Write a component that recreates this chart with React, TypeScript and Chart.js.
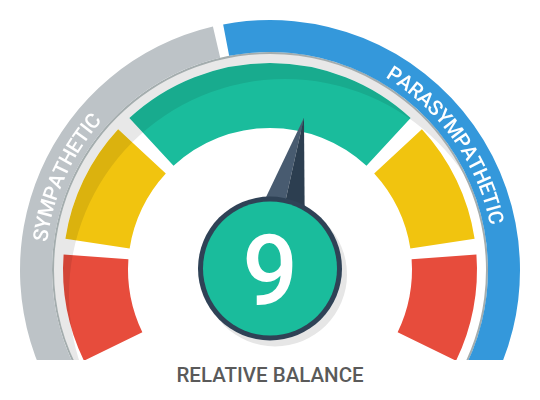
import { useEffect, useRef } from 'react';
import { Chart, registerables } from 'chart.js';

Chart.register(...registerables);

// ---- data ----
const sideLabels = ['SYMPATHETIC', 'PARASYMPATHETIC'];
const sideShares = [45, 55]; // % of the outer ring sweep
const sideColors = ['#bdc3c7', '#3498db'];
const sideLabelAngles = [-65.6, 54.7]; // label centre, degrees from top

const zoneLabels = ['Low', 'Fair', 'Balanced', 'Fair', 'Low'];
const zoneSweeps = [32.5, 38.5, 90, 38.5, 32.5]; // degrees (gaps included)
const zoneColors = ['#e74c3c', '#f1c40f', '#1abc9c', '#f1c40f', '#e74c3c'];

const balanceValue = 9;
const scaleMin = -83;
const scaleMax = 83;
const titleText = 'RELATIVE BALANCE';

// ---- geometry / style ----
const OUTER_SWEEP = 240;
const RING_GAP = 2.4;
const ZONE_GAP = 4.4;
const T = 'rgba(0,0,0,0)';

function buildSideData() {
  const a = (sideShares[0] / 100) * OUTER_SWEEP - RING_GAP / 2;
  const b = (sideShares[1] / 100) * OUTER_SWEEP - RING_GAP / 2;
  return {
    data: [a, RING_GAP, b, 360 - OUTER_SWEEP],
    colors: [sideColors[0], T, sideColors[1], T],
  };
}

function buildZoneData() {
  const data: number[] = [];
  const colors: string[] = [];
  const n = zoneSweeps.length;
  zoneSweeps.forEach((s, i) => {
    let v = s;
    if (i > 0) v -= ZONE_GAP / 2;
    if (i < n - 1) v -= ZONE_GAP / 2;
    data.push(v);
    colors.push(zoneColors[i]);
    if (i < n - 1) {
      data.push(ZONE_GAP);
      colors.push(T);
    }
  });
  const total = zoneSweeps.reduce((p, c) => p + c, 0);
  data.push(360 - total);
  colors.push(T);
  return { data, colors, total };
}

function drawArcText(ctx: CanvasRenderingContext2D, text: string, cx: number, cy: number, rMid: number, centerDeg: number, size: number) {
  ctx.save();
  ctx.font = `500 ${size}px Roboto`;
  ctx.fillStyle = '#ffffff';
  ctx.textAlign = 'center';
  ctx.textBaseline = 'alphabetic';
  const chars = [...text];
  const widths = chars.map((ch) => ctx.measureText(ch).width);
  const total = widths.reduce((p, c) => p + c, 0);
  let a = (centerDeg * Math.PI) / 180 - total / 2 / rMid;
  const base = rMid - (0.711 * size) / 2;
  chars.forEach((ch, i) => {
    const mid = a + widths[i] / 2 / rMid;
    ctx.save();
    ctx.translate(cx, cy);
    ctx.rotate(mid);
    ctx.fillText(ch, 0, -base);
    ctx.restore();
    a += widths[i] / rMid;
  });
  ctx.restore();
}

const gaugePlugin = {
  id: 'gaugeDecor',
  afterDatasetsDraw(chart: any) {
    const ctx: CanvasRenderingContext2D = chart.ctx;
    const zoneArc: any = chart.getDatasetMeta(3).data[0];
    const lineArc: any = chart.getDatasetMeta(1).data[0];
    const sideArc: any = chart.getDatasetMeta(0).data[0];
    const cx = zoneArc.x;
    const cy = zoneArc.y;
    const rIn = zoneArc.innerRadius;
    const rOut = zoneArc.outerRadius;
    const rLine = lineArc.innerRadius;
    const W = chart.width;
    const H = chart.height;
    const ox = cx + 15;
    const oy = cy + 25;
    const oR = 216;

    // darker shading on the outer part of the zones
    ctx.save();
    ctx.beginPath();
    ctx.arc(cx, cy, rOut, 0, Math.PI * 2);
    ctx.arc(cx, cy, rIn, 0, Math.PI * 2, true);
    ctx.clip();
    ctx.beginPath();
    ctx.rect(0, 0, W, H);
    ctx.arc(ox, oy, oR, 0, Math.PI * 2);
    ctx.clip('evenodd');
    ctx.globalCompositeOperation = 'source-atop';
    ctx.fillStyle = 'rgba(0,0,0,0.09)';
    ctx.fillRect(0, 0, W, H);
    ctx.restore();

    // light shadow band behind everything
    ctx.save();
    ctx.beginPath();
    ctx.arc(cx, cy, rLine + 0.5, 0, Math.PI * 2);
    ctx.clip();
    ctx.beginPath();
    ctx.rect(0, 0, W, H);
    ctx.arc(ox, oy, oR, 0, Math.PI * 2);
    ctx.globalCompositeOperation = 'destination-over';
    ctx.fillStyle = '#e8e8e8';
    ctx.fill('evenodd');
    ctx.restore();

    // centre disc shadow
    const cr = 72;
    const ccy = cy - 1.5;
    ctx.save();
    ctx.beginPath();
    ctx.arc(cx + 5, ccy + 6, cr, 0, Math.PI * 2);
    ctx.fillStyle = '#e6e6e6';
    ctx.fill();
    ctx.restore();

    // needle
    const frac = (balanceValue - scaleMin) / (scaleMax - scaleMin);
    const zoneTotal = zoneSweeps.reduce((p, c) => p + c, 0);
    const deg = frac * zoneTotal - zoneTotal / 2;
    const th = (deg * Math.PI) / 180;
    const L = 156;
    const hw = 36;
    const tx = cx + L * Math.sin(th);
    const ty = cy - L * Math.cos(th);
    const px = Math.cos(th);
    const py = Math.sin(th);
    ctx.save();
    ctx.beginPath();
    ctx.moveTo(tx, ty);
    ctx.lineTo(cx, cy);
    ctx.lineTo(cx - hw * px, cy - hw * py);
    ctx.closePath();
    ctx.fillStyle = '#485b70';
    ctx.fill();
    ctx.beginPath();
    ctx.moveTo(tx, ty);
    ctx.lineTo(cx, cy);
    ctx.lineTo(cx + hw * px, cy + hw * py);
    ctx.closePath();
    ctx.fillStyle = '#2c3e50';
    ctx.fill();
    ctx.restore();

    // centre disc
    ctx.save();
    ctx.beginPath();
    ctx.arc(cx, ccy, cr, 0, Math.PI * 2);
    ctx.fillStyle = '#2f4256';
    ctx.fill();
    ctx.beginPath();
    ctx.arc(cx, ccy, cr - 5, 0, Math.PI * 2);
    ctx.fillStyle = '#1abc9c';
    ctx.fill();
    ctx.font = '500 98px Roboto';
    ctx.fillStyle = '#ffffff';
    ctx.textAlign = 'center';
    ctx.textBaseline = 'alphabetic';
    ctx.fillText(String(balanceValue), cx, cy + 35);
    ctx.restore();

    // curved ring labels
    const rMid = (sideArc.innerRadius + sideArc.outerRadius) / 2 - 2;
    sideLabels.forEach((lab, i) => drawArcText(ctx, lab, cx, cy, rMid, sideLabelAngles[i], 20.5));
  },
};

export default function App() {
  const ref = useRef<HTMLCanvasElement | null>(null);

  useEffect(() => {
    if (!ref.current) return;
    const side = buildSideData();
    const zones = buildZoneData();
    const chart = new Chart(ref.current, {
      type: 'doughnut',
      data: {
        labels: zoneLabels,
        datasets: [
          {
            data: side.data,
            backgroundColor: side.colors,
            borderWidth: 0,
            rotation: -OUTER_SWEEP / 2,
            weight: 32,
          },
          {
            data: [OUTER_SWEEP, 360 - OUTER_SWEEP],
            backgroundColor: ['#a4adae', T],
            borderWidth: 0,
            rotation: -OUTER_SWEEP / 2,
            weight: 2,
          },
          {
            data: [360],
            backgroundColor: [T],
            borderWidth: 0,
            weight: 9,
          },
          {
            data: zones.data,
            backgroundColor: zones.colors,
            borderWidth: 0,
            rotation: -zones.total / 2,
            weight: 65,
          },
        ],
      } as any,
      options: {
        responsive: false,
        animation: false,
        events: [],
        radius: 250,
        cutout: '56.8%',
        layout: { padding: 0 },
        plugins: {
          legend: { display: false },
          tooltip: { enabled: false },
        },
      } as any,
      plugins: [gaugePlugin],
    });
    return () => chart.destroy();
  }, []);

  return (
    <div style={{ position: 'absolute', left: 0, top: 0, width: 540, height: 400, background: '#ffffff' }}>
      <div style={{ position: 'absolute', left: 0, top: 0, width: 540, height: 360, overflow: 'hidden' }}>
        <canvas ref={ref} width={540} height={540} style={{ display: 'block' }} />
      </div>
      <div
        style={{
          position: 'absolute',
          left: 0,
          top: 365,
          width: 540,
          textAlign: 'center',
          font: '500 20.5px/21px Roboto',
          color: '#5a5a5a',
        }}
      >
        {titleText}
      </div>
    </div>
  );
}
